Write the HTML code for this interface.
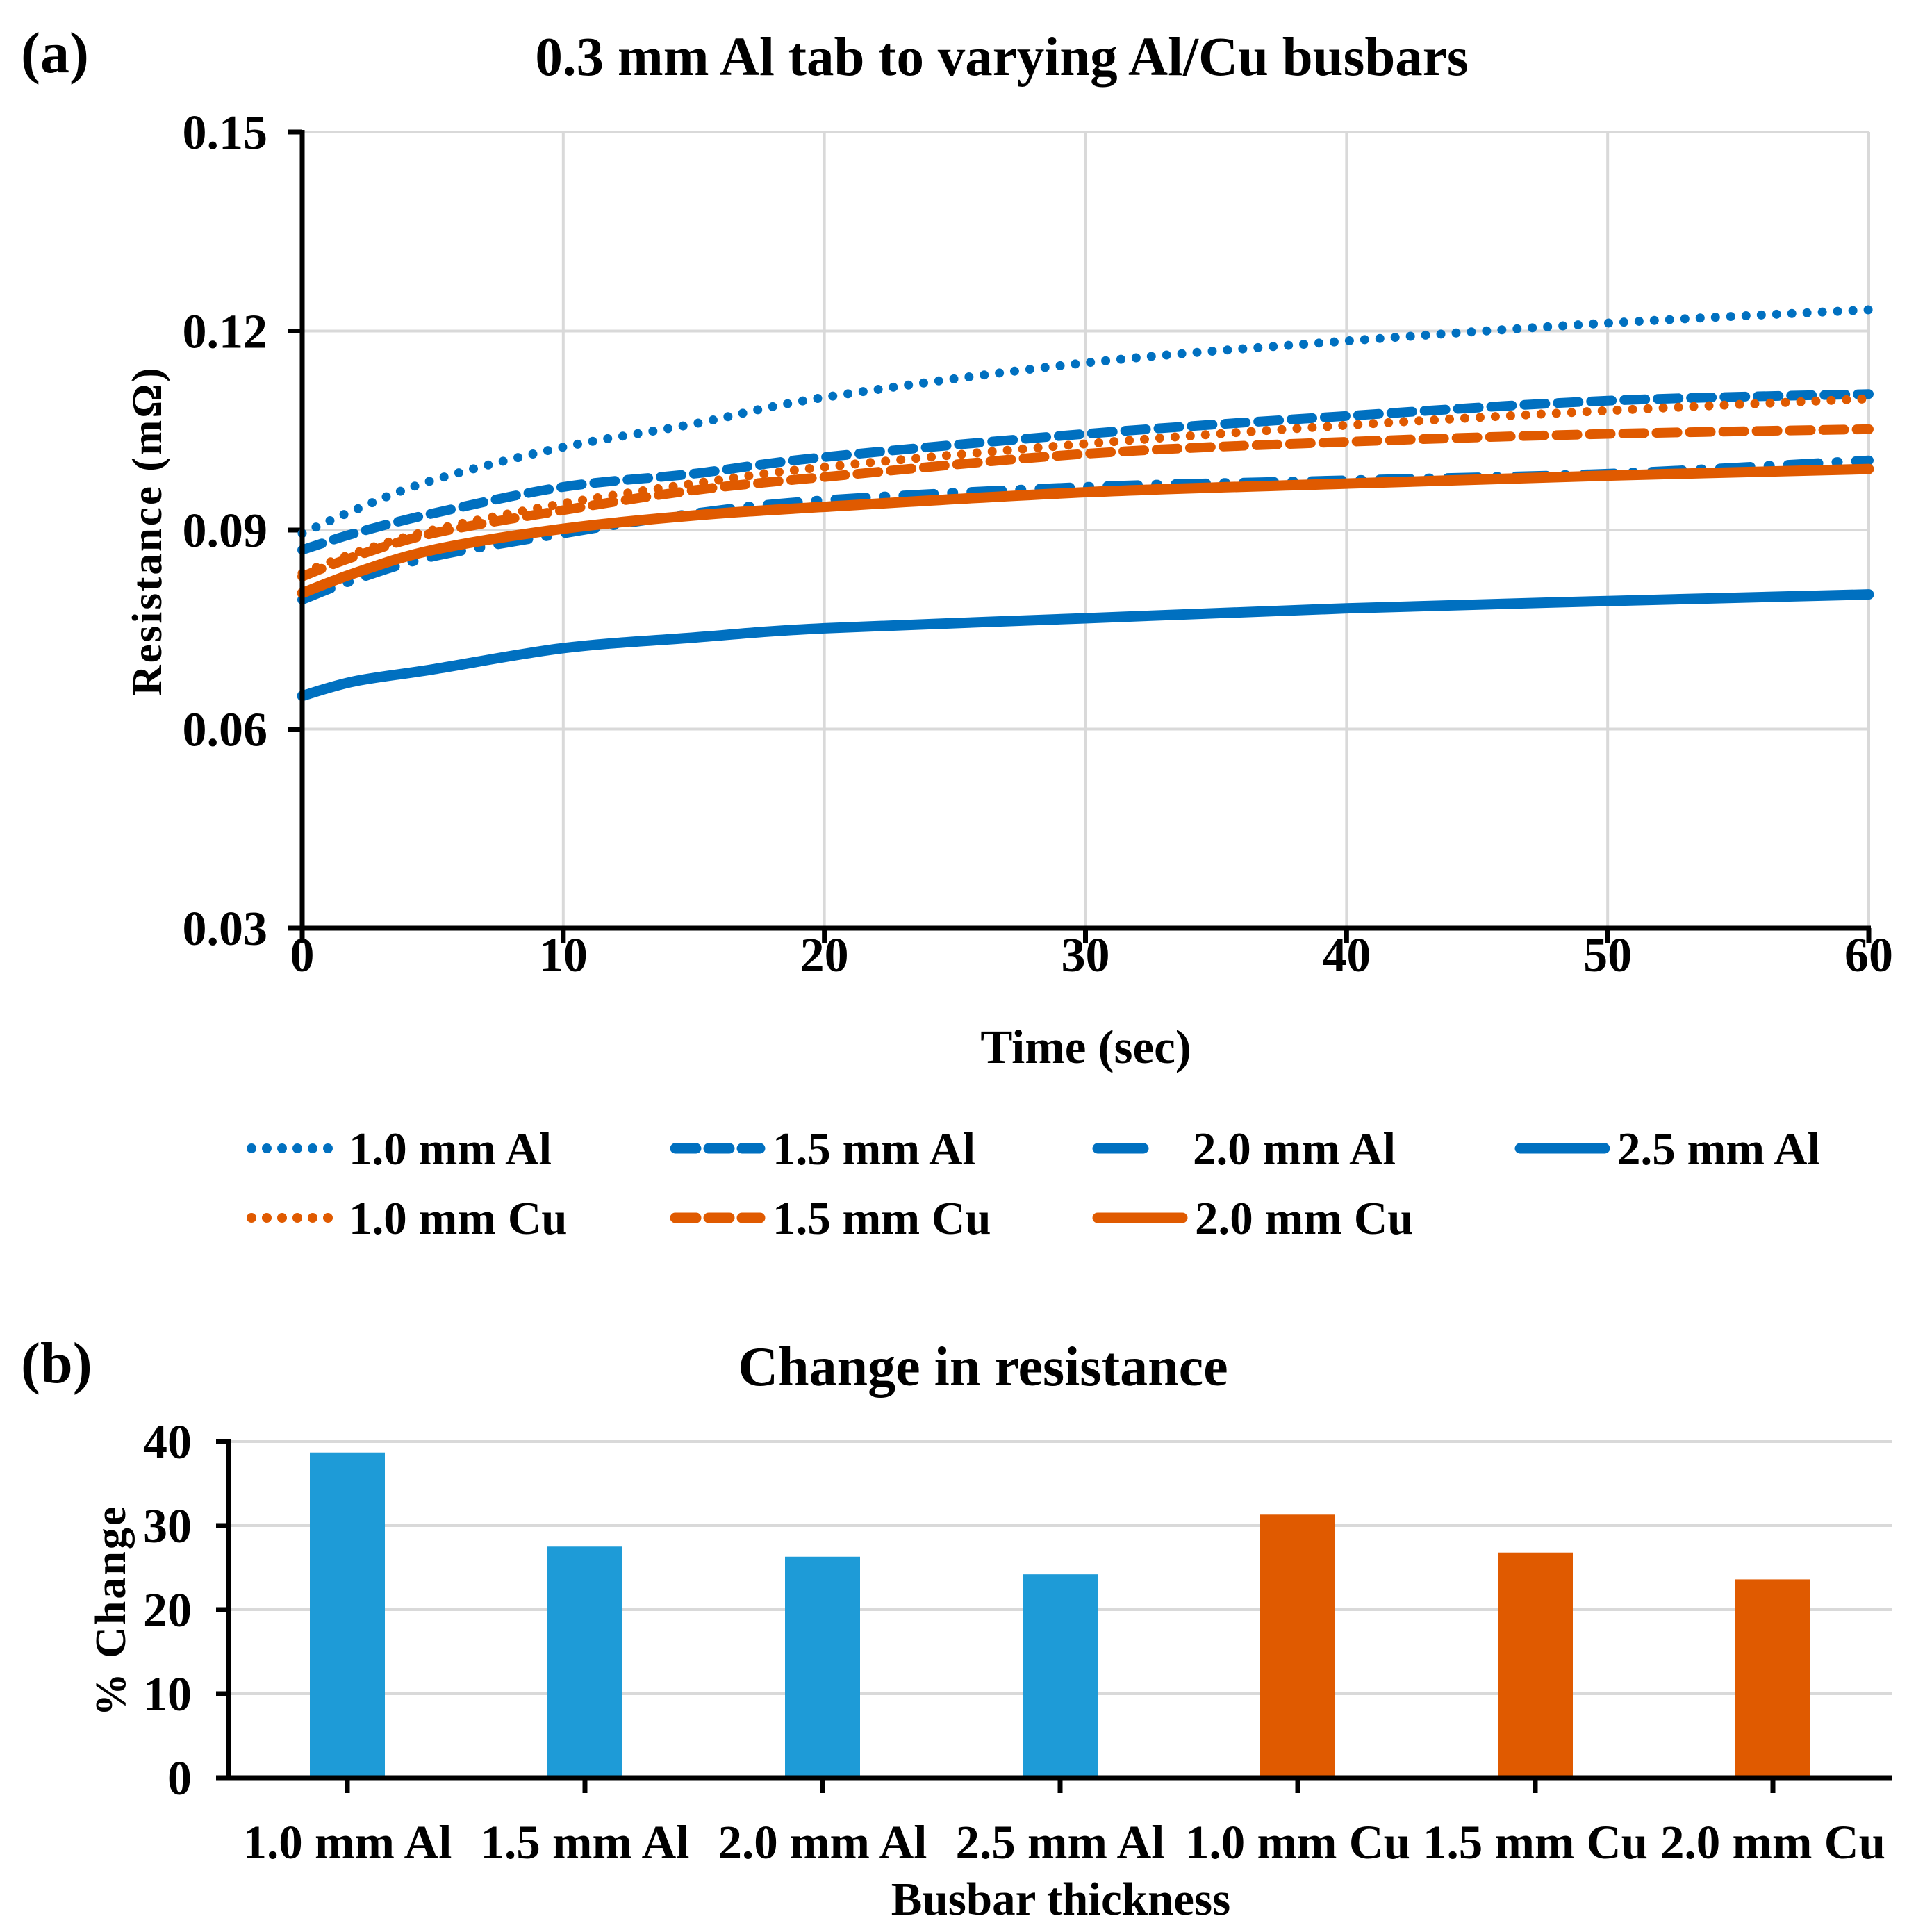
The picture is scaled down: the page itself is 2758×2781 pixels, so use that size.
<!DOCTYPE html>
<html><head><meta charset="utf-8"><style>
html,body{margin:0;padding:0;background:#fff;}
svg text{font-family:"Liberation Serif",serif;font-weight:bold;fill:#000;}
</style></head><body>
<svg id="fig" width="2758" height="2776" viewBox="0 0 2758 2776" xmlns="http://www.w3.org/2000/svg">
<text x="30" y="104" font-size="84">(a)</text>
<text x="1442" y="108" font-size="79" text-anchor="middle">0.3 mm Al tab to varying Al/Cu busbars</text>
<g id="gA"></g>
<text x="1563" y="1530" font-size="69" text-anchor="middle">Time (sec)</text>
<text transform="translate(232,764) rotate(-90)" font-size="61" text-anchor="middle" letter-spacing="3">Resistance (mΩ)</text>
<g id="legend"></g>
<text x="30" y="1990" font-size="84">(b)</text>
<text x="1415" y="1994" font-size="80" text-anchor="middle">Change in resistance</text>
<g id="gB"></g>
<text transform="translate(180,2318) rotate(-90)" font-size="62" text-anchor="middle" letter-spacing="3">% Change</text>
<text x="1527" y="2756" font-size="67" text-anchor="middle">Busbar thickness</text>
</svg>
<script>
const times=[0,2,5,10,15,20,30,40,50,60];
const al10=[0.0895,0.093,0.0975,0.1025,0.106,0.110,0.1152,0.1185,0.1212,0.1232];
const al15=[0.087,0.0895,0.0925,0.0965,0.0985,0.101,0.1045,0.1072,0.1095,0.1105];
const al20=[0.0795,0.0825,0.086,0.0895,0.0925,0.0945,0.0965,0.0975,0.0985,0.1005];
const al25=[0.065,0.0672,0.069,0.0722,0.0738,0.0752,0.0767,0.0782,0.0793,0.0803];
const cu10=[0.0835,0.0865,0.090,0.094,0.097,0.0995,0.103,0.1058,0.108,0.1098];
const cu15=[0.083,0.086,0.0895,0.093,0.096,0.098,0.1015,0.1033,0.1045,0.1052];
const cu20=[0.0805,0.0835,0.087,0.0902,0.0922,0.0935,0.0957,0.097,0.0982,0.0992];
const xTicks=[0,10,20,30,40,50,60];
const yTicks=[0.03,0.06,0.09,0.12,0.15];
const yTickLabels=["0.03","0.06","0.09","0.12","0.15"];
const barCats=["1.0 mm Al","1.5 mm Al","2.0 mm Al","2.5 mm Al","1.0 mm Cu","1.5 mm Cu","2.0 mm Cu"];
const barVals=[38.7,27.5,26.3,24.2,31.3,26.8,23.6];
const barTicks=[0,10,20,30,40];

const NS="http://www.w3.org/2000/svg";
function mk(tag,attrs,parent){const e=document.createElementNS(NS,tag);for(const k in attrs)e.setAttribute(k,attrs[k]);parent.appendChild(e);return e;}
const BLUE="#0070C0",ORANGE="#E05A00";
const gA=document.getElementById('gA');
const X0=435,X1=2690,Y0=1336,Y1=190;
const xs=t=>X0+(t-0)/(60-0)*(X1-X0);
const ys=v=>Y0-(v-0.03)/(0.15-0.03)*(Y0-Y1);
yTicks.forEach((v,i)=>{
  if(i>0){const g=mk('line',{x1:X0,x2:X1,y1:ys(v),y2:ys(v),stroke:'#d9d9d9','stroke-width':4},gA);
  
  }
  const tk=mk('line',{x1:X0-20,x2:X0,y1:ys(v),y2:ys(v),stroke:'#000','stroke-width':7},gA);
  
  
  const t=mk('text',{x:X0-50,y:ys(v)+24,'font-size':70,'text-anchor':'end'},gA);t.textContent=yTickLabels[i];
  
  
});
xTicks.forEach(v=>{
  if(v>0){const g=mk('line',{x1:xs(v),x2:xs(v),y1:Y1,y2:Y0,stroke:'#d9d9d9','stroke-width':4},gA);
  
  }
  const tk=mk('line',{x1:xs(v),x2:xs(v),y1:Y0,y2:Y0+22,stroke:'#000','stroke-width':7},gA);
  
  
  const t=mk('text',{x:xs(v),y:1398,'font-size':70,'text-anchor':'middle'},gA);t.textContent=v;
  
  
});
function smooth(vals){
  const p=times.map((t,i)=>[xs(t),ys(vals[i])]);
  let d=`M${p[0][0]},${p[0][1]}`;
  for(let i=0;i<p.length-1;i++){
    const a=p[Math.max(0,i-1)],b=p[i],c=p[i+1],e=p[Math.min(p.length-1,i+2)];
    const c1=[b[0]+(c[0]-a[0])/6,b[1]+(c[1]-a[1])/6],c2=[c[0]-(e[0]-b[0])/6,c[1]-(e[1]-b[1])/6];
    d+=` C${c1[0]},${c1[1]} ${c2[0]},${c2[1]} ${c[0]},${c[1]}`;
  }
  return d;
}
const series=[
 {n:"2.5 mm Al",v:al25,c:BLUE,da:"",w:15},
 {n:"1.0 mm Al",v:al10,c:BLUE,da:"0 22",w:13},
 {n:"1.5 mm Al",v:al15,c:BLUE,da:"30 18",w:14},
 {n:"2.0 mm Al",v:al20,c:BLUE,da:"44 26 2 26",w:14},
 {n:"1.0 mm Cu",v:cu10,c:ORANGE,da:"0 22",w:13},
 {n:"1.5 mm Cu",v:cu15,c:ORANGE,da:"30 18",w:14},
 {n:"2.0 mm Cu",v:cu20,c:ORANGE,da:"",w:15}
];
series.forEach(s=>{
  const p=mk('path',{d:smooth(s.v),fill:'none',stroke:s.c,'stroke-width':s.w,'stroke-linecap':'round','stroke-dasharray':s.da},gA);
  
  
});
const ax1=mk('line',{x1:X0,x2:X0,y1:Y1-3,y2:Y0+3,stroke:'#000','stroke-width':7},gA);


const ax2=mk('line',{x1:X0-3,x2:X1+3,y1:Y0,y2:Y0,stroke:'#000','stroke-width':7},gA);


const lg=document.getElementById('legend');
const legItems=[
 {n:"1.0 mm Al",c:BLUE,da:"0 22",x:362,y:1653,w:14},
 {n:"1.5 mm Al",c:BLUE,da:"30 18",x:972,y:1653,w:15},
 {n:"2.0 mm Al",c:BLUE,da:"66 200",x:1580,y:1653,w:15,tx:1717},
 {n:"2.5 mm Al",c:BLUE,da:"",x:2188,y:1653,w:15},
 {n:"1.0 mm Cu",c:ORANGE,da:"0 22",x:362,y:1753,w:14},
 {n:"1.5 mm Cu",c:ORANGE,da:"30 18",x:972,y:1753,w:15},
 {n:"2.0 mm Cu",c:ORANGE,da:"",x:1580,y:1753,w:15}
];
legItems.forEach(L=>{
  const ln=mk('line',{x1:L.x,x2:L.x+122,y1:L.y,y2:L.y,stroke:L.c,'stroke-width':L.w,'stroke-linecap':'round','stroke-dasharray':L.da},lg);
  
  
  const t=mk('text',{x:L.tx||L.x+140,y:L.y+23,'font-size':67},lg);t.textContent=L.n;
  
  
});
const gB=document.getElementById('gB');
const BX0=329,BX1=2723,BY0=2559,BY1=2075;
const bys=v=>BY0-v/40*(BY0-BY1);
const band=(BX1-BX0)/barCats.length;
barTicks.forEach(v=>{
  if(v>0){const g=mk('line',{x1:BX0,x2:BX1,y1:bys(v),y2:bys(v),stroke:'#d9d9d9','stroke-width':4},gB);
  
  }
  const tk=mk('line',{x1:BX0-18,x2:BX0,y1:bys(v),y2:bys(v),stroke:'#000','stroke-width':7},gB);
  
  
  const t=mk('text',{x:276,y:bys(v)+24,'font-size':70,'text-anchor':'end'},gB);t.textContent=v;
  
  
});
barCats.forEach((c,i)=>{
  const cx=BX0+band*(i+0.5);
  const r=mk('rect',{x:cx-54,y:bys(barVals[i]),width:108,height:BY0-bys(barVals[i]),fill:i<4?'#1E9BD7':'#E05A00'},gB);
  
  
  const tk=mk('line',{x1:cx,x2:cx,y1:BY0,y2:BY0+22,stroke:'#000','stroke-width':7},gB);
  
  
  const t=mk('text',{x:cx,y:2675,'font-size':69,'text-anchor':'middle'},gB);t.textContent=c;
  
  
});
const bx=mk('line',{x1:BX0,x2:BX0,y1:BY1-3,y2:BY0+3,stroke:'#000','stroke-width':7},gB);


const bxx=mk('line',{x1:BX0-18,x2:BX1,y1:BY0,y2:BY0,stroke:'#000','stroke-width':7},gB);


</script>
</body></html>
